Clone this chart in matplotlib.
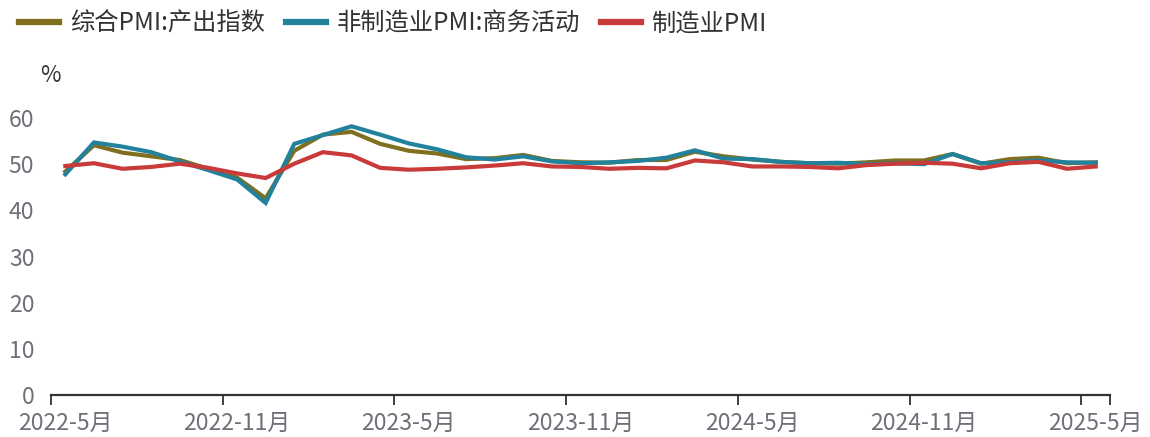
import matplotlib
matplotlib.use("Agg")
import matplotlib.pyplot as plt
import numpy as np

plt.rcParams['font.family'] = ['Noto Sans CJK SC', 'DejaVu Sans']

months = []
for y in (2022, 2023, 2024, 2025):
    for m in range(1, 13):
        if (y == 2022 and m < 5) or (y == 2025 and m > 5):
            continue
        months.append(f"{y}-{m}月")

composite = [48.4, 54.1, 52.5, 51.7, 50.9, 49.0, 47.1, 42.6,
             52.9, 56.4, 57.0, 54.4, 52.9, 52.3, 51.1, 51.3, 52.0, 50.7, 50.4, 50.3,
             50.9, 50.9, 52.7, 51.7, 51.0, 50.5, 50.2, 50.1, 50.4, 50.8, 50.8, 52.2,
             50.1, 51.1, 51.4, 50.2, 50.4]
nonmfg = [47.8, 54.7, 53.8, 52.6, 50.6, 48.7, 46.7, 41.6,
          54.4, 56.3, 58.2, 56.4, 54.5, 53.2, 51.5, 51.0, 51.7, 50.6, 50.2, 50.4,
          50.7, 51.4, 53.0, 51.2, 51.1, 50.5, 50.2, 50.3, 50.0, 50.2, 50.0, 52.2,
          50.2, 50.4, 50.8, 50.4, 50.3]
mfg = [49.6, 50.2, 49.0, 49.4, 50.1, 49.2, 48.0, 47.0,
       50.1, 52.6, 51.9, 49.2, 48.8, 49.0, 49.3, 49.7, 50.2, 49.5, 49.4, 49.0,
       49.2, 49.1, 50.8, 50.4, 49.5, 49.5, 49.4, 49.1, 49.8, 50.1, 50.3, 50.1,
       49.1, 50.2, 50.5, 49.0, 49.5]

names = ["综合PMI:产出指数", "非制造业PMI:商务活动", "制造业PMI"]
colors = ["#7f6f1f", "#22819b", "#c93a3a"]

fig = plt.figure(figsize=(11.5, 4.37), dpi=100)
ax = fig.add_axes([51/1150, 1-395/437, (1110-51)/1150, (395-118)/437])

x = np.arange(len(months))
for vals, name, c in zip([composite, nonmfg, mfg], names, colors):
    ax.plot(x, vals, color=c, lw=3.0, label=name, solid_joinstyle='miter')

ax.set_xlim(-0.5, len(months) - 0.5)
ax.set_ylim(0, 60)
ax.set_yticks(range(0, 61, 10))

major = list(range(0, len(months), 6))
ax.set_xticks(major)
ax.set_xticklabels([months[i] for i in major])
minor = [i - 0.5 for i in major] + [len(months) - 0.5]
ax.set_xticks(minor, minor=True)
ax.tick_params(axis='x', which='major', length=0, pad=12, labelsize=16.5, colors='#6e7079')
ax.tick_params(axis='x', which='minor', length=7, width=1.3, color='#333333')
ax.tick_params(axis='y', length=0, pad=12, labelsize=16.5, colors='#6e7079')

for s in ('top', 'right', 'left'):
    ax.spines[s].set_visible(False)
ax.spines['bottom'].set_color('#333333')
ax.spines['bottom'].set_linewidth(1.6)

fig.text(40/1150, 1-76/437, "%", fontsize=16, color='#333333', va='center', ha='left')

fig.legend(loc='upper left', bbox_to_anchor=(-0.0025, 1.025), ncol=3, frameon=False,
           fontsize=17.5, handlelength=1.65, handletextpad=0.45, columnspacing=0.85,
           labelcolor='#333333')
for lh in fig.legends[0].get_lines():
    lh.set_linewidth(4.5)

fig.savefig("out.png", dpi=100)
